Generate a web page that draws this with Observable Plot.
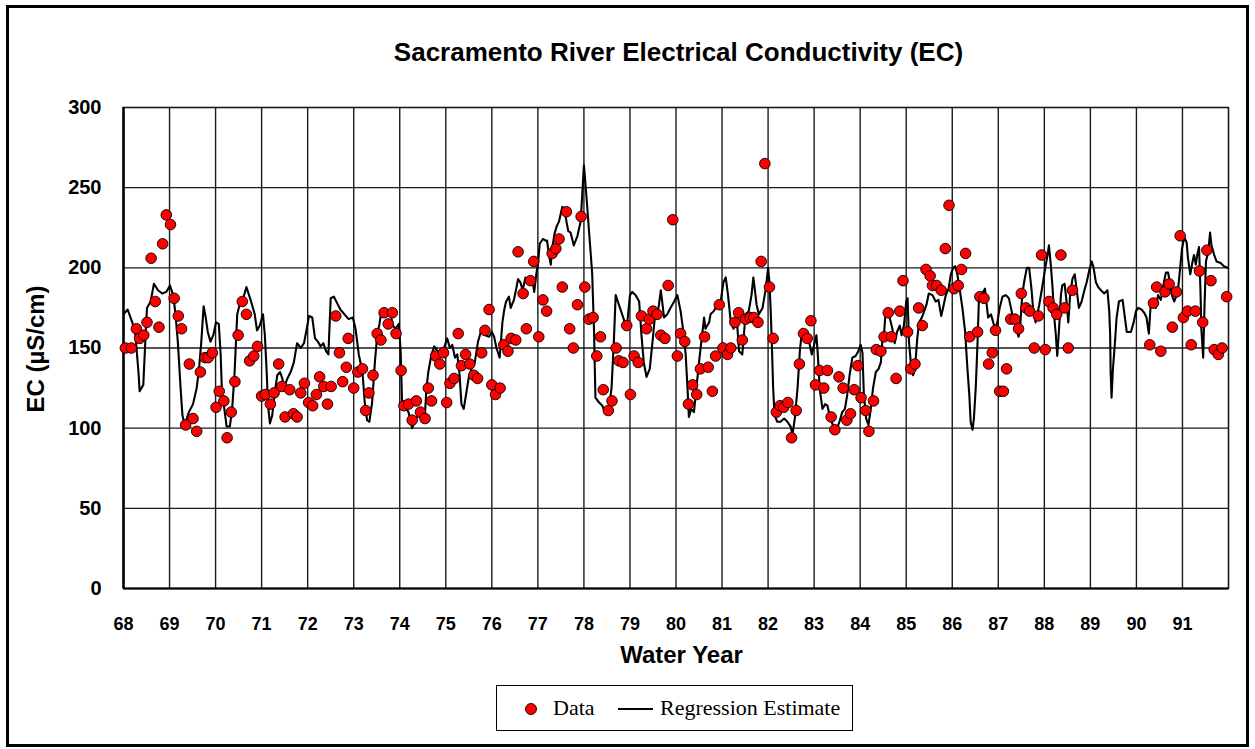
<!DOCTYPE html>
<html>
<head>
<meta charset="utf-8">
<script src="https://cdn.jsdelivr.net/npm/d3@7"></script>
<script src="https://cdn.jsdelivr.net/npm/@observablehq/plot@0.6"></script>
<style>
  html, body { margin: 0; padding: 0; background: #fff; }
  #wrap { position: relative; width: 1255px; height: 749px; overflow: hidden; background: #fff; }
  #border { position: absolute; left: 6px; top: 5px; width: 1237px; height: 736px; border: 3px solid #000; }
  #chart { position: absolute; left: 0; top: 0; }
  #chart g[aria-label="y-axis tick label"], #chart g[aria-label="y-axis"] { font-size: 20px; }
  .lbl { position: absolute; font-family: "Liberation Sans", Arial, sans-serif; font-weight: bold; color: #000; white-space: nowrap; line-height: 1; }
  #title { left: 123px; width: 1111px; top: 39px; text-align: center; font-size: 26px; }
  #xlabel { left: 123px; width: 1117px; top: 643px; text-align: center; font-size: 24px; }
  #ylabel { left: 36px; top: 349px; font-size: 24px; transform: translate(-50%, -50%) rotate(-90deg); }
  #legend { position: absolute; left: 496px; top: 685px; width: 355px; height: 44px; border: 1px solid #000;
            font-family: "Liberation Serif", "Times New Roman", serif; font-size: 22px; }
  #legend .t { position: absolute; top: 11px; line-height: 1; white-space: nowrap; }
  #legend svg { position: absolute; left: 0; top: 0; }
</style>
</head>
<body>
<div id="wrap">
  <div id="border"></div>
  <div id="chart"></div>
  <div id="title" class="lbl">Sacramento River Electrical Conductivity (EC)</div>
  <div id="xlabel" class="lbl">Water Year</div>
  <div id="ylabel" class="lbl">EC (µS/cm)</div>
  <div id="legend">
    <svg width="355" height="44"><circle cx="34" cy="23" r="5.5" fill="#ff0000" stroke="#000" stroke-width="0.9"></circle><line x1="121" x2="156" y1="23" y2="23" stroke="#000" stroke-width="2"></line></svg>
    <span class="t" style="left:56px">Data</span>
    <span class="t" style="left:163px">Regression Estimate</span>
  </div>
</div>
<script>
// ---- tick labels / gridlines ----
const xTicks = [68,69,70,71,72,73,74,75,76,77,78,79,80,81,82,83,84,85,86,87,88,89,90,91];
const xGrid = [69,70,71,72,73,74,75,76,77,78,79,80,81,82,83,84,85,86,87,88,89,90,91];
const yTicks = [0,50,100,150,200,250,300];
const yGrid = [50,100,150,200,250];

// ---- Data (observed EC) ----
const obsYear = [68.04,68.17,68.28,68.35,68.44,68.51,68.60,68.69,68.77,68.85,68.93,69.02,69.10,69.19,69.26,69.35,69.43,69.51,69.59,69.67,69.77,69.84,69.93,
70.01,70.08,70.18,70.25,70.34,70.42,70.49,70.58,70.67,70.74,70.83,70.91,71.00,71.08,71.19,71.27,71.37,71.44,71.51,71.61,71.69,71.77,71.85,71.93,
72.02,72.11,72.19,72.26,72.35,72.43,72.51,72.61,72.69,72.76,72.84,72.88,73.00,73.09,73.19,73.26,73.33,73.42,73.51,73.59,73.66,73.75,73.84,73.92,
74.03,74.09,74.19,74.27,74.36,74.45,74.55,74.62,74.69,74.78,74.87,74.95,75.02,75.09,75.18,75.27,75.34,75.43,75.52,75.61,75.69,75.78,75.85,75.94,
76.00,76.08,76.18,76.26,76.35,76.42,76.52,76.57,76.68,76.75,76.84,76.91,77.02,77.11,77.19,77.31,77.39,77.46,77.53,77.62,77.69,77.77,77.86,77.94,
78.02,78.11,78.20,78.28,78.36,78.42,78.53,78.61,78.70,78.76,78.85,78.93,79.01,79.09,79.18,79.25,79.36,79.42,79.50,79.59,79.67,79.76,79.83,79.93,
80.03,80.10,80.19,80.27,80.36,80.45,80.53,80.62,80.70,80.79,80.86,80.94,81.02,81.12,81.19,81.28,81.36,81.44,81.51,81.61,81.69,81.78,81.85,81.93,
82.03,82.11,82.18,82.26,82.34,82.43,82.51,82.61,82.68,82.77,82.85,82.93,83.03,83.12,83.21,83.29,83.37,83.45,83.54,83.63,83.71,83.79,83.87,83.95,
84.02,84.12,84.19,84.29,84.35,84.45,84.52,84.61,84.68,84.78,84.86,84.93,85.03,85.10,85.19,85.27,85.35,85.43,85.52,85.57,85.66,85.76,85.85,85.93,
86.04,86.13,86.20,86.29,86.38,86.55,86.60,86.69,86.79,86.87,86.94,87.03,87.11,87.18,87.27,87.36,87.44,87.50,87.60,87.68,87.78,87.87,87.94,
88.02,88.10,88.19,88.27,88.36,88.44,88.52,88.61,
90.29,90.37,90.44,90.53,90.62,90.71,90.78,90.87,90.95,91.02,91.11,91.19,91.28,91.37,91.44,91.53,91.62,91.69,91.78,91.86,91.96];
const obsEC = [150,150,162,156,158,166,206,179,163,215,233,227,181,170,162,102,140,106,98,135,144,144,147,
113,123,117,94,110,129,158,179,171,142,145,151,120,121,115,122,140,126,107,124,109,107,122,128,
116,114,121,132,126,115,126,170,147,129,138,156,125,135,137,111,122,133,159,155,172,165,172,159,
136,114,115,105,117,110,106,125,117,145,140,147,116,128,131,159,139,146,140,133,131,147,161,174,
127,121,125,152,148,156,155,210,184,162,192,204,157,180,173,209,212,218,188,235,162,150,177,232,
188,168,169,145,157,124,111,117,150,142,141,164,121,145,141,170,162,168,173,171,158,156,189,230,
145,159,154,115,127,121,137,157,138,123,145,177,150,146,150,166,172,155,168,169,169,166,204,265,
188,156,110,114,113,116,94,111,140,159,156,167,127,136,125,136,107,99,132,125,105,109,124,139,
119,111,98,117,149,148,157,172,157,131,173,192,160,137,140,175,164,199,195,189,189,186,212,239,
187,189,199,209,157,160,182,181,140,147,161,123,123,137,168,168,162,184,175,173,150,170,208,
149,179,175,171,208,175,150,186,
152,178,188,148,185,190,163,185,220,169,173,152,173,198,166,211,192,149,146,150,182];

// ---- Regression estimate ----
const estYear = [68.00,68.09,68.19,68.26,68.33,68.35,68.43,68.48,68.51,68.59,68.66,68.75,68.84,68.93,69.01,69.08,69.13,69.18,69.24,69.28,69.33,69.42,69.51,69.59,69.64,69.69,69.74,69.78,69.83,69.89,69.95,
70.01,70.07,70.11,70.14,70.19,70.24,70.31,70.36,70.41,70.47,70.54,70.60,70.67,70.76,70.85,70.90,70.96,71.03,71.07,71.11,71.14,71.18,71.23,71.28,71.34,71.40,71.45,71.48,71.56,71.63,71.70,71.77,71.85,71.92,71.98,
72.03,72.10,72.16,72.22,72.28,72.34,72.40,72.45,72.50,72.57,72.64,72.71,72.80,72.89,72.98,73.04,73.11,73.19,73.24,73.29,73.34,73.40,73.46,73.51,73.56,73.60,73.68,73.73,73.79,73.85,73.91,73.98,
74.02,74.05,74.11,74.19,74.24,74.27,74.34,74.42,74.49,74.55,74.58,74.62,74.69,74.75,74.82,74.89,74.96,75.03,75.09,75.14,75.20,75.25,75.30,75.34,75.39,75.44,75.50,75.56,75.63,75.70,75.76,75.81,75.86,75.94,
76.00,76.05,76.10,76.17,76.23,76.27,76.31,76.37,76.41,76.48,76.53,76.57,76.62,76.67,76.73,76.79,76.84,76.88,76.92,76.97,77.00,77.04,77.11,77.17,77.20,77.24,77.28,77.31,77.36,77.41,77.46,77.49,77.53,77.58,77.62,77.66,77.71,77.78,77.86,77.93,
78.00,78.04,78.07,78.11,78.15,78.18,78.22,78.25,78.33,78.40,78.47,78.54,78.60,78.65,78.69,78.76,78.83,78.91,78.94,79.00,79.05,79.12,79.20,79.25,79.30,79.36,79.43,79.49,79.54,79.59,79.63,79.67,79.70,79.74,79.81,79.88,79.96,
80.03,80.10,80.17,80.21,80.25,80.28,80.33,80.39,80.45,80.50,80.55,80.61,80.64,80.72,80.75,80.82,80.90,80.97,81.03,81.08,81.13,81.19,81.25,81.30,81.33,81.37,81.44,81.48,81.51,81.58,81.64,81.68,81.71,81.75,81.80,81.88,81.95,
82.00,82.03,82.06,82.08,82.11,82.14,82.20,82.27,82.35,82.42,82.49,82.53,82.58,82.64,82.69,82.74,82.79,82.84,82.89,82.95,83.00,83.05,83.08,83.12,83.18,83.24,83.29,83.32,83.38,83.45,83.50,83.55,83.61,83.67,83.72,83.77,83.83,83.90,83.96,
84.01,84.05,84.08,84.13,84.18,84.23,84.28,84.34,84.40,84.45,84.48,84.52,84.55,84.59,84.64,84.70,84.75,84.80,84.86,84.90,84.95,85.00,85.03,85.06,85.10,85.15,85.19,85.24,85.28,85.34,85.39,85.44,85.49,85.57,85.64,85.70,85.76,85.80,85.86,85.92,85.97,
86.02,86.06,86.11,86.16,86.22,86.28,86.33,86.37,86.40,86.44,86.47,86.51,86.55,86.58,86.62,86.67,86.71,86.74,86.78,86.84,86.89,86.93,86.98,87.03,87.09,87.16,87.23,87.29,87.34,87.38,87.44,87.47,87.52,87.56,87.62,87.67,87.72,87.76,87.81,87.89,87.96,
88.02,88.07,88.10,88.14,88.18,88.21,88.25,88.28,88.32,88.36,88.39,88.44,88.49,88.52,88.56,88.61,88.66,88.70,88.75,88.81,88.86,88.92,88.98,89.03,89.07,89.12,89.17,89.23,89.30,89.37,89.41,89.43,89.44,89.46,89.49,89.53,89.57,89.62,89.70,89.75,89.79,89.88,89.94,89.99,
90.04,90.11,90.17,90.22,90.27,90.31,90.37,90.42,90.47,90.53,90.59,90.64,90.69,90.74,90.77,90.82,90.90,90.95,90.99,91.04,91.09,91.12,91.17,91.22,91.25,91.29,91.32,91.36,91.39,91.41,91.45,91.48,91.51,91.56,91.60,91.63,91.69,91.74,91.83,91.90,91.98];
const estEC = [171,174,166,158,133,123,127,158,175,179,190,186,184,185,189,183,171,154,125,108,102,110,115,125,137,154,176,170,160,154,158,
166,165,146,121,112,101,101,112,133,171,179,181,188,180,171,161,164,171,158,135,114,103,108,121,133,135,131,125,131,135,141,153,150,153,162,
170,169,156,154,151,153,148,146,181,182,178,174,171,168,169,162,146,135,116,105,104,116,141,158,165,173,173,170,173,164,162,165,
148,116,114,110,104,100,106,108,104,110,125,135,146,151,148,147,150,156,150,152,144,146,133,115,112,121,132,137,141,154,160,162,158,157,
160,157,150,144,166,174,179,182,175,180,187,193,191,186,194,190,193,193,185,197,202,215,218,217,217,208,202,212,221,226,229,233,238,237,229,223,222,214,220,229,
264,250,239,223,208,196,160,119,116,114,109,112,125,154,183,177,171,164,165,183,185,183,179,158,141,132,137,154,169,171,177,186,179,169,171,175,179,
183,173,158,146,125,107,112,110,127,141,154,169,162,166,171,173,177,179,191,194,183,166,162,166,164,148,146,160,171,173,183,194,187,177,171,175,187,
200,191,171,154,125,108,104,104,106,104,101,96,106,125,148,162,161,157,154,146,152,158,146,125,112,115,114,110,104,99,100,104,110,112,121,133,144,145,148,
152,147,121,106,102,112,125,135,137,141,154,160,171,173,169,162,153,160,164,158,164,179,181,154,141,133,137,156,166,169,173,177,184,183,179,180,170,175,183,187,196,
200,201,196,187,175,160,137,121,104,99,106,125,154,181,183,185,187,179,169,171,166,162,166,175,182,183,181,173,166,164,157,161,183,191,200,200,187,173,166,177,189,
200,208,214,202,187,171,158,145,162,183,189,190,177,166,183,193,196,187,175,179,185,191,199,204,200,191,188,186,184,186,173,158,135,119,137,152,169,179,180,169,160,160,166,173,
175,174,172,169,159,177,179,175,183,180,190,197,197,188,183,179,185,200,212,219,216,206,196,204,208,202,208,213,187,162,144,177,204,210,222,214,208,204,203,201,200];

const obs = obsYear.map((x, i) => ({x, y: obsEC[i]}));
const est = estYear.map((x, i) => ({x, y: estEC[i]}));

const chart = Plot.plot({
  width: 1255,
  height: 749,
  marginLeft: 123,
  marginRight: 27,
  marginTop: 107,
  marginBottom: 161,
  style: {fontFamily: "'Liberation Sans', Arial, sans-serif", fontSize: "18px", fontWeight: "bold", background: "transparent", color: "#000"},
  x: {domain: [68, 92], ticks: xTicks, tickFormat: d => String(d), tickSize: 0, tickPadding: 29, label: null},
  y: {domain: [0, 300], ticks: yTicks, tickSize: 0, tickPadding: 22, label: null},
  marks: [
    Plot.ruleX(xGrid, {stroke: "#1a1a1a", strokeWidth: 1.4}),
    Plot.ruleY(yGrid, {stroke: "#1a1a1a", strokeWidth: 1.4}),
    Plot.frame({stroke: "#1a1a1a", strokeWidth: 1.6}),
    Plot.ruleX([68], {stroke: "#000", strokeWidth: 2.5}),
    Plot.ruleY([0], {stroke: "#000", strokeWidth: 2.2}),
    Plot.line(est, {x: "x", y: "y", stroke: "#000", strokeWidth: 2.1, curve: "linear"}),
    Plot.dot(obs, {x: "x", y: "y", r: 5.3, fill: "#ff0000", stroke: "#000", strokeWidth: 0.9})
  ]
});
document.getElementById("chart").appendChild(chart);
</script>
</body>
</html>
